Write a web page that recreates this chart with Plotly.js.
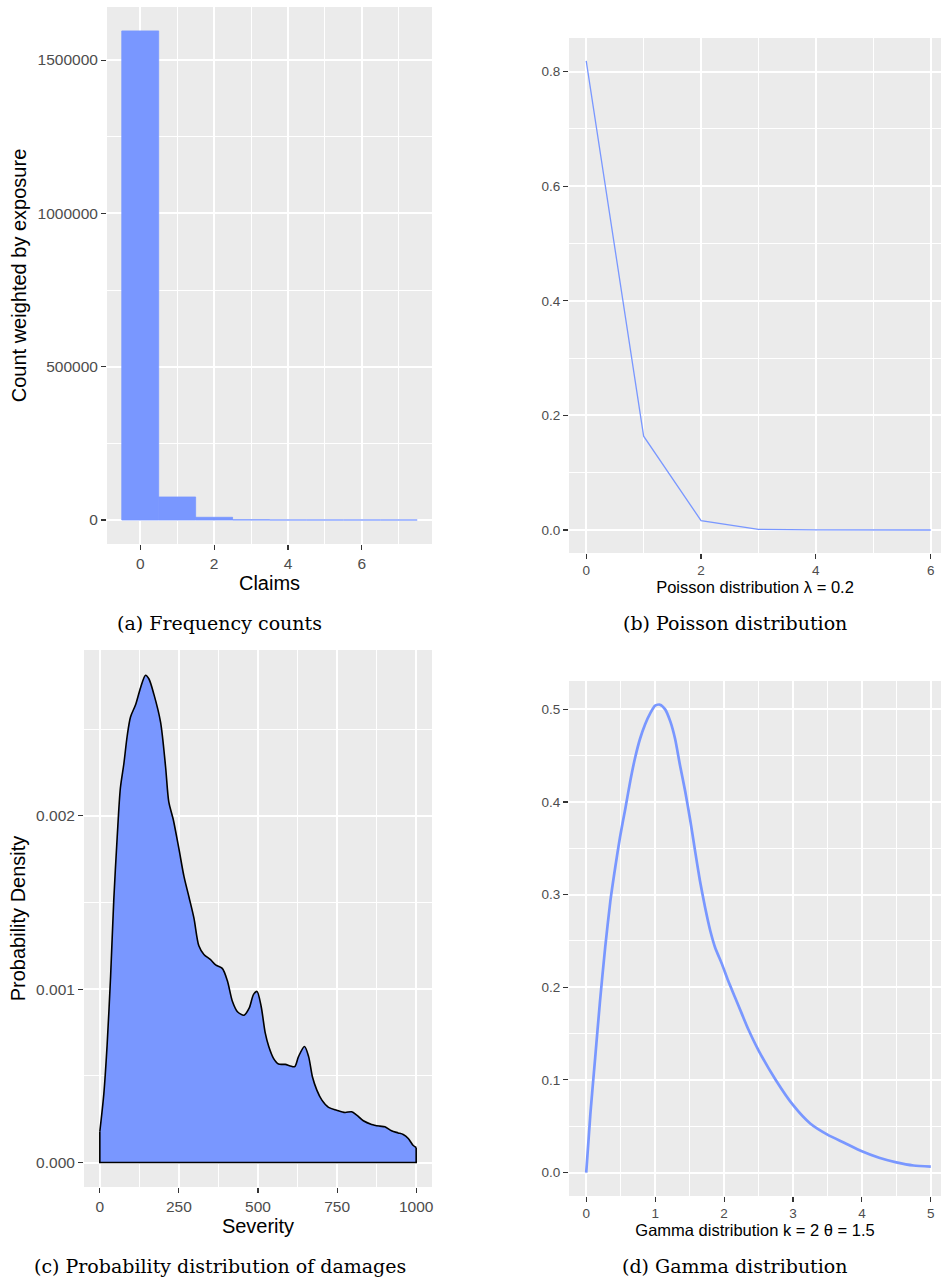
<!DOCTYPE html>
<html>
<head>
<meta charset="utf-8">
<script src="https://cdn.plot.ly/plotly-3.0.1.min.js"></script>
<style>html,body{margin:0;padding:0;background:#fff;}#chart{width:941px;height:1281px;}</style>
</head>
<body>
<div id="chart"></div>
<script>
// ---------- Data ----------
// (a) Frequency counts (weighted by exposure)
const claimCategories = [0, 1, 2, 3, 4, 5, 6, 7];
const claimCounts = [1595000, 75000, 8800, 700, 80, 10, 3, 1];

// (b) Poisson distribution lambda = 0.2
const poissonK = [0, 1, 2, 3, 4, 5, 6];
const poissonP = [0.8187, 0.1637, 0.0164, 0.0011, 0.0001, 0.0000, 0.0000];

// (c) Probability density of damages (severity)
const severityX = [0, 12.7, 23, 34, 44, 55, 65, 76, 86.5, 97, 113, 129, 144.5, 155, 171, 192, 208, 218, 232, 250,
  266, 282, 297.5, 313, 329, 350, 366, 387, 403, 419, 435, 456, 472, 486, 497, 510, 523, 534, 549, 565,
  586, 602, 616, 628, 647, 660, 672, 686, 702, 723, 749, 775, 796, 812, 833, 859, 885, 901, 922, 943,
  959, 975, 990, 1000];
const severityDensity = [0.000179, 0.000397, 0.000675, 0.00107, 0.00151, 0.00188, 0.00216, 0.00230, 0.00246, 0.00257,
  0.00264, 0.00274, 0.00281, 0.00279, 0.00270, 0.00254, 0.00228, 0.00208, 0.00198, 0.00181,
  0.00165, 0.00153, 0.00141, 0.00125, 0.00120, 0.00117, 0.00114, 0.00112, 0.00105, 0.00093,
  0.00087, 0.00085, 0.00089, 0.00097, 0.000987, 0.00090, 0.000746, 0.000669, 0.000601, 0.000568,
  0.000566, 0.000557, 0.000553, 0.000611, 0.000669, 0.000611, 0.000495, 0.000418, 0.000360, 0.000318,
  0.000302, 0.000289, 0.000293, 0.000274, 0.000241, 0.000220, 0.000210, 0.000206, 0.000183, 0.000171,
  0.000162, 0.000139, 0.000100, 0.000087];

// (d) Gamma distribution k = 2, theta = 1.5
const gammaX = [0, 0.06, 0.13, 0.2, 0.275, 0.35, 0.42, 0.49, 0.565, 0.64, 0.71, 0.78, 0.855, 0.93, 1.0, 1.07,
  1.145, 1.22, 1.29, 1.36, 1.435, 1.51, 1.58, 1.65, 1.725, 1.8, 1.87, 1.97, 2.06, 2.16, 2.26, 2.35,
  2.5, 2.75, 3.0, 3.25, 3.5, 3.75, 4.0, 4.25, 4.5, 4.75, 5.0];
const gammaY = [0, 0.063, 0.124, 0.185, 0.243, 0.293, 0.329, 0.362, 0.392, 0.423, 0.448, 0.468, 0.484, 0.496, 0.504, 0.505,
  0.50, 0.487, 0.468, 0.44, 0.412, 0.380, 0.347, 0.315, 0.286, 0.261, 0.243, 0.225, 0.207, 0.189, 0.171, 0.155,
  0.132, 0.100, 0.073, 0.053, 0.041, 0.032, 0.023, 0.016, 0.011, 0.0076, 0.0065];

// Text
const captions = ['(a) Frequency counts', '(b) Poisson distribution', '(c) Probability distribution of damages', '(d) Gamma distribution'];
const titleA_x = 'Claims', titleA_y = 'Count weighted by exposure';
const titleB_x = 'Poisson distribution \u03BB = 0.2';
const titleC_x = 'Severity', titleC_y = 'Probability Density';
const titleD_x = 'Gamma distribution k = 2 \u03B8 = 1.5';

// ---------- Style ----------
const BLUE = '#7997FF';
const W = 941, H = 1281;
const px = v => v / W;
const py = v => 1 - v / H;

function minorGrid(dtick, tick0) {
  return {showgrid: true, gridcolor: '#FFFFFF', gridwidth: 1, dtick: dtick, tick0: tick0, ticks: ''};
}
function axis(opts) {
  return Object.assign({
    showgrid: true, gridcolor: '#FFFFFF', gridwidth: 2,
    zeroline: false, showline: false,
    ticks: 'outside', ticklen: 5, tickwidth: 1.1, tickcolor: '#333333',
    tickfont: {family: 'Liberation Sans, Arial, sans-serif', size: 15.5, color: '#4D4D4D'},
    fixedrange: true
  }, opts);
}
const titleFont = {family: 'Liberation Sans, Arial, sans-serif', size: 20, color: '#000000'};
const titleFontSmall = {family: 'Liberation Sans, Arial, sans-serif', size: 16.5, color: '#000000'};
const tickSmall = {family: 'Liberation Sans, Arial, sans-serif', size: 13.5, color: '#4D4D4D'};

// ---------- Traces ----------
const traces = [];
traces.push({
  type: 'bar', x: claimCategories, y: claimCounts, width: 1,
  marker: {color: BLUE, line: {color: BLUE, width: 0.8}},
  xaxis: 'x', yaxis: 'y', hoverinfo: 'x+y'
});
traces.push({
  type: 'scatter', mode: 'lines', x: poissonK, y: poissonP,
  line: {color: BLUE, width: 1.3},
  xaxis: 'x2', yaxis: 'y2'
});
traces.push({
  type: 'scatter', mode: 'lines', x: severityX, y: severityDensity,
  fill: 'tozeroy', fillcolor: BLUE,
  line: {color: '#000000', width: 1.6, shape: 'spline', smoothing: 0.8},
  xaxis: 'x3', yaxis: 'y3'
});
// outline of density base (edges and baseline), derived from the data ends
const nS = severityX.length;
traces.push({
  type: 'scatter', mode: 'lines',
  x: [severityX[0], severityX[0], severityX[nS - 1], severityX[nS - 1]],
  y: [severityDensity[0], 0, 0, severityDensity[nS - 1]],
  line: {color: '#000000', width: 1.6},
  xaxis: 'x3', yaxis: 'y3', hoverinfo: 'skip'
});
traces.push({
  type: 'scatter', mode: 'lines', x: gammaX, y: gammaY,
  line: {color: BLUE, width: 2.7, shape: 'spline', smoothing: 0.6},
  xaxis: 'x4', yaxis: 'y4'
});

// ---------- Layout ----------
const layout = {
  width: W, height: H,
  margin: {l: 0, r: 0, t: 0, b: 0},
  paper_bgcolor: '#FFFFFF', plot_bgcolor: '#EBEBEB',
  showlegend: false, bargap: 0,
  font: {family: 'Liberation Sans, Arial, sans-serif'},
  // (a)
  xaxis: axis({domain: [px(107), px(432)], anchor: 'y', range: [-0.9, 7.9], dtick: 2, tick0: 0,
    minor: minorGrid(1, 1),
    title: {text: titleA_x, font: titleFont, standoff: 5}}),
  yaxis: axis({domain: [py(544), py(7)], anchor: 'x', range: [-78300, 1673000], dtick: 500000, tick0: 0,
    tickformat: 'd',
    minor: minorGrid(250000, 0),
    title: {text: titleA_y, font: titleFont, standoff: 5}}),
  // (b)
  xaxis2: axis({domain: [px(569), 1], anchor: 'y2', range: [-0.3, 6.18], dtick: 2, tick0: 0,
    tickfont: tickSmall,
    minor: minorGrid(1, 1),
    title: {text: titleB_x, font: titleFontSmall, standoff: 1}}),
  yaxis2: axis({domain: [py(553), py(38)], anchor: 'x2', range: [-0.0401, 0.8586], dtick: 0.2, tick0: 0,
    tickfont: tickSmall, tickformat: '.1f',
    minor: minorGrid(0.1, 0)}),
  // (c)
  xaxis3: axis({domain: [px(84), px(432)], anchor: 'y3', range: [-50, 1050], dtick: 250, tick0: 0,
    minor: minorGrid(125, 0),
    title: {text: titleC_x, font: titleFont, standoff: 5}}),
  yaxis3: axis({domain: [py(1187), py(650)], anchor: 'x3', range: [-0.000141, 0.002956], dtick: 0.001, tick0: 0,
    tickformat: '.3f',
    minor: minorGrid(0.0005, 0),
    title: {text: titleC_y, font: titleFont, standoff: 5}}),
  // (d)
  xaxis4: axis({domain: [px(569), 1], anchor: 'y4', range: [-0.25, 5.148], dtick: 1, tick0: 0,
    tickfont: tickSmall,
    minor: minorGrid(0.5, 0),
    title: {text: titleD_x, font: titleFontSmall, standoff: 1}}),
  yaxis4: axis({domain: [py(1196), py(681)], anchor: 'x4', range: [-0.0253, 0.5306], dtick: 0.1, tick0: 0,
    tickfont: tickSmall, tickformat: '.1f',
    minor: minorGrid(0.05, 0)}),
  annotations: [
    {text: captions[0], x: px(219), y: py(623)},
    {text: captions[1], x: px(735), y: py(623)},
    {text: captions[2], x: px(219.5), y: py(1266)},
    {text: captions[3], x: px(735), y: py(1266)}
  ].map(a => Object.assign({xref: 'paper', yref: 'paper', showarrow: false, xanchor: 'center', yanchor: 'middle',
    font: {family: 'DejaVu Serif, serif', size: 19, color: '#000000'}}, a))
};

Plotly.newPlot('chart', traces, layout, {displayModeBar: false, staticPlot: true});
</script>
</body>
</html>
